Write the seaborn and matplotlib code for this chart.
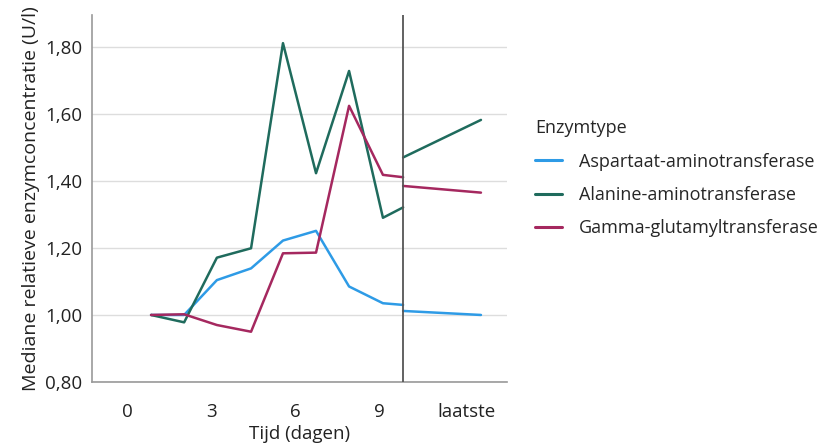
import matplotlib
matplotlib.use("Agg")
import matplotlib.pyplot as plt
import seaborn as sns
import pandas as pd
from matplotlib.ticker import FuncFormatter

# Data (x in day units)
x_main = [0.86, 2.04, 3.21, 4.43, 5.57, 6.75, 7.93, 9.14, 9.86]
x_last = [9.86, 12.64]
ast_main = [1.00, 1.00, 1.104, 1.139, 1.222, 1.251, 1.085, 1.035, 1.030]
ast_last = [1.012, 1.000]
alt_main = [1.00, 0.978, 1.171, 1.199, 1.811, 1.423, 1.728, 1.290, 1.321]
alt_last = [1.470, 1.582]
ggt_main = [1.00, 1.002, 0.970, 0.950, 1.184, 1.186, 1.624, 1.418, 1.411]
ggt_last = [1.385, 1.365]
enzymes = ["Aspartaat-aminotransferase", "Alanine-aminotransferase", "Gamma-glutamyltransferase"]
tick_pos = [0, 3, 6, 9, 12.14]
tick_labels = ["0", "3", "6", "9", "laatste"]
y_ticks = [0.80, 1.00, 1.20, 1.40, 1.60, 1.80]

rows = []
for name, main, last in zip(enzymes, [ast_main, alt_main, ggt_main], [ast_last, alt_last, ggt_last]):
    for xv, yv in zip(x_main, main):
        rows.append({"x": xv, "y": yv, "Enzymtype": name, "seg": 0})
    for xv, yv in zip(x_last, last):
        rows.append({"x": xv, "y": yv, "Enzymtype": name, "seg": 1})
df = pd.DataFrame(rows)

sns.set_style("white")
plt.rcParams["font.family"] = ["Open Sans", "DejaVu Sans"]

fig = plt.figure(figsize=(8.4, 4.48), dpi=100)
ax = fig.add_axes([92/840, (448-382)/448, (507-92)/840, (382-15)/448])

palette = {"Aspartaat-aminotransferase": "#2E9BE6",
           "Alanine-aminotransferase": "#1F6B5D",
           "Gamma-glutamyltransferase": "#A5285F"}

sns.lineplot(data=df, x="x", y="y", hue="Enzymtype", units="seg", estimator=None,
             palette=palette, linewidth=1.8, ax=ax, sort=False)

ax.axvline(9.86, color="#555555", linewidth=1.3, zorder=5)

ax.set_xlim(-1.25, 13.57)
ax.set_ylim(0.80, 1.895)
ax.set_yticks(y_ticks)
ax.yaxis.set_major_formatter(FuncFormatter(lambda v, p: f"{v:.2f}".replace(".", ",")))
ax.set_xticks(tick_pos)
ax.set_xticklabels(tick_labels)
ax.grid(axis="y", color="#DDDDDD", linewidth=1)
ax.set_axisbelow(True)
for s in ["top", "right"]:
    ax.spines[s].set_visible(False)
for s in ["left", "bottom"]:
    ax.spines[s].set_color("#999999")
    ax.spines[s].set_linewidth(1.2)
ax.tick_params(axis="both", length=0, labelsize=13.5, colors="#222222")
ax.tick_params(axis="y", pad=7)
ax.tick_params(axis="x", pad=15)
ax.set_xlabel("Tijd (dagen)", fontsize=13.5, color="#222222", labelpad=3)
ax.set_ylabel("Mediane relatieve enzymconcentratie (U/l)", fontsize=14, color="#222222", labelpad=4)

handles, labels = ax.get_legend_handles_labels()
if ax.legend_:
    ax.legend_.remove()
leg = fig.legend(handles, labels, title="Enzymtype", loc="upper left",
                 bbox_to_anchor=(528/840, 1 - 112/448), frameon=False,
                 fontsize=13, title_fontsize=13, handlelength=1.5, labelspacing=0.85,
                 handletextpad=0.9, alignment="left", borderaxespad=0)
for line in leg.get_lines():
    line.set_linewidth(2.2)

fig.savefig("out.png", dpi=100)
